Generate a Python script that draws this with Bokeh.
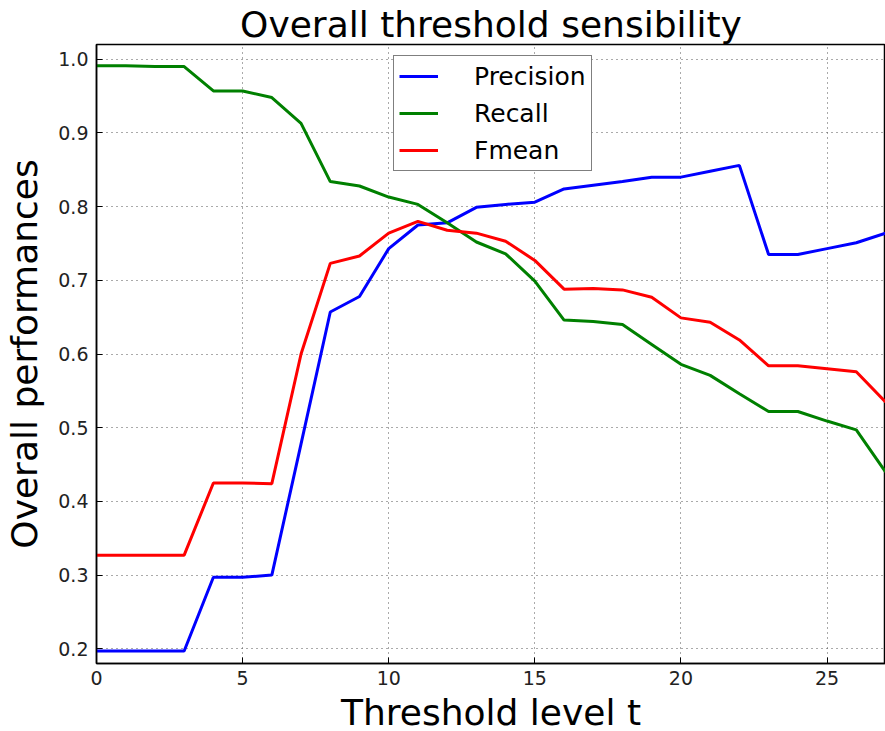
from bokeh.plotting import figure
from bokeh.models import (Range1d, Legend, LegendItem, FixedTicker, PrintfTickFormatter)
from bokeh.embed import file_html
from bokeh.resources import INLINE

# ---- data ----
thresholds = list(range(0, 28))
precision = [0.197, 0.197, 0.197, 0.197, 0.297, 0.297, 0.300, 0.478, 0.657, 0.678,
             0.743, 0.775, 0.778, 0.799, 0.803, 0.806, 0.824, 0.829, 0.834, 0.840,
             0.840, 0.848, 0.856, 0.735, 0.735, 0.743, 0.751, 0.764]
recall = [0.991, 0.991, 0.990, 0.990, 0.957, 0.957, 0.948, 0.913, 0.834, 0.828,
          0.813, 0.803, 0.778, 0.752, 0.736, 0.699, 0.646, 0.644, 0.640, 0.613,
          0.586, 0.571, 0.546, 0.522, 0.522, 0.509, 0.497, 0.440]
fmean = [0.327, 0.327, 0.327, 0.327, 0.425, 0.425, 0.424, 0.600, 0.723, 0.733,
         0.764, 0.780, 0.768, 0.764, 0.753, 0.727, 0.688, 0.689, 0.687, 0.677,
         0.649, 0.643, 0.619, 0.584, 0.584, 0.580, 0.576, 0.535]
x_ticks = [0, 5, 10, 15, 20, 25]
y_ticks = [0.2, 0.3, 0.4, 0.5, 0.6, 0.7, 0.8, 0.9, 1.0]

title_text = "Overall threshold sensibility"
x_label = "Threshold level t"
y_label = "Overall performances"

FONT = "DejaVu Sans"

p = figure(frame_width=789, frame_height=619,
           min_border_left=96, min_border_right=0, min_border_top=44, min_border_bottom=68,
           x_range=Range1d(0, 27), y_range=Range1d(0.18, 1.02),
           output_backend="svg", toolbar_location=None,
           background_fill_color="white", border_fill_color="white")

p.title.text = title_text
p.title.text_font = FONT
p.title.text_font_size = "36px"
p.title.text_font_style = "normal"
p.title.text_color = "black"
p.title.align = "center"
p.title.standoff = 0
p.title.offset = 0

p.outline_line_color = "black"
p.outline_line_width = 1.5
p.outline_line_alpha = 1.0

# axes
for ax in (p.xaxis[0], p.yaxis[0]):
    ax.axis_line_color = "black"
    ax.axis_line_width = 1.5
    ax.major_tick_in = 6
    ax.major_tick_out = 0
    ax.major_tick_line_color = "black"
    ax.major_tick_line_width = 1
    ax.minor_tick_line_color = None
    ax.major_label_text_font = FONT
    ax.major_label_text_font_size = "19px"
    ax.major_label_text_color = "#222222"
    ax.axis_label_text_font = FONT
    ax.axis_label_text_font_size = "36px"
    ax.axis_label_text_font_style = "normal"
    ax.axis_label_text_color = "black"

p.xaxis[0].ticker = FixedTicker(ticks=x_ticks)
p.yaxis[0].ticker = FixedTicker(ticks=y_ticks)
p.yaxis[0].formatter = PrintfTickFormatter(format="%.1f")
p.xaxis[0].major_label_standoff = 7
p.yaxis[0].major_label_standoff = 8
p.xaxis[0].axis_label = x_label
p.yaxis[0].axis_label = y_label
p.xaxis[0].axis_label_standoff = 4
p.yaxis[0].axis_label_standoff = 10

# grid
for g in (p.xgrid[0], p.ygrid[0]):
    g.grid_line_color = "#555555"
    g.grid_line_dash = "1 4"
    g.grid_line_width = 1
p.xgrid[0].ticker = FixedTicker(ticks=x_ticks)
p.ygrid[0].ticker = FixedTicker(ticks=y_ticks)

# lines
r1 = p.line(thresholds, precision, line_color="#0000ff", line_width=3)
r2 = p.line(thresholds, recall, line_color="#008000", line_width=3)
r3 = p.line(thresholds, fmean, line_color="#ff0000", line_width=3)

legend = Legend(items=[LegendItem(label="Precision", renderers=[r1]),
                       LegendItem(label="Recall", renderers=[r2]),
                       LegendItem(label="Fmean", renderers=[r3])],
                location=(297, 492),
                label_text_font=FONT, label_text_font_size="25px",
                label_text_color="black",
                glyph_width=39, glyph_height=30, label_height=30,
                label_standoff=36, spacing=7, padding=5, margin=0,
                border_line_color="black", border_line_width=1.5,
                background_fill_color="white", background_fill_alpha=1.0)
p.add_layout(legend)

open("out.html", "w").write(file_html(p, INLINE))
